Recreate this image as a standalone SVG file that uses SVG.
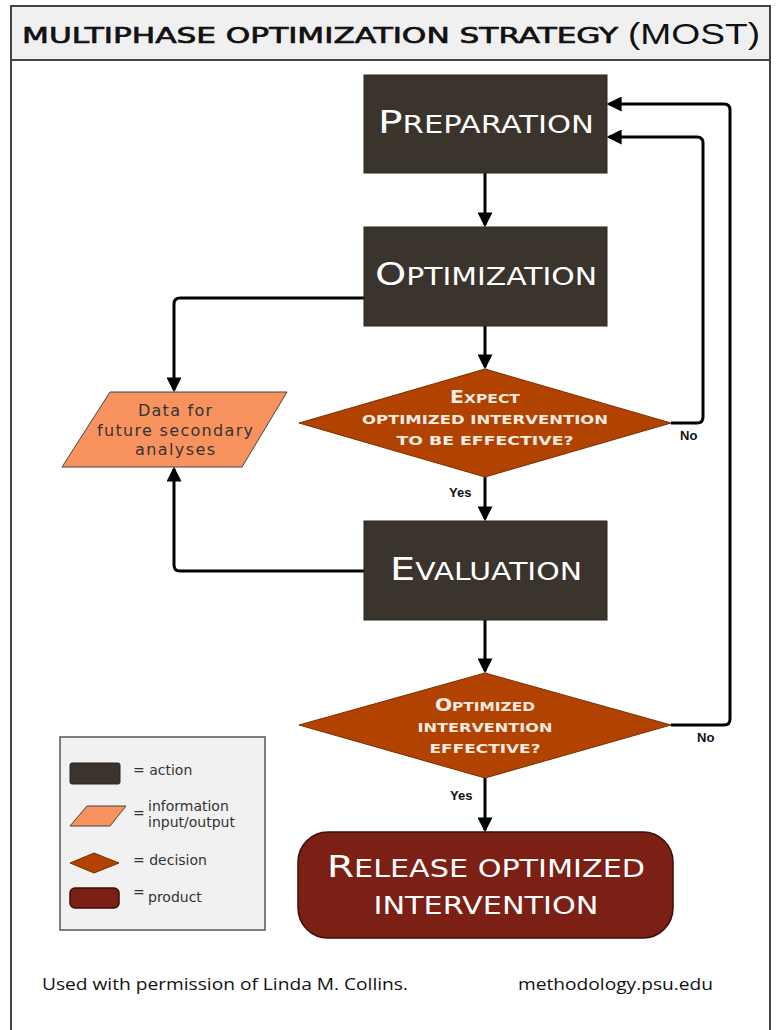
<svg xmlns="http://www.w3.org/2000/svg" width="777" height="1030" viewBox="0 0 777 1030">
  <defs>
    <marker id="arrow" markerWidth="5" markerHeight="5" refX="4.2" refY="2.5" orient="auto" markerUnits="strokeWidth">
      <path d="M0,0 L5,2.5 L0,5 Z" fill="#000"/>
    </marker>
    <style>
      .frame { fill: #ffffff; stroke: #444; stroke-width: 2; }
      .band { fill: #f0f0f0; stroke: #444; stroke-width: 2; }
      .action { fill: #3a342d; stroke: #2a2520; stroke-width: 1; }
      .decision { fill: #b24200; stroke: #7a2d00; stroke-width: 1; }
      .info { fill: #f8935f; stroke: #444; stroke-width: 1; }
      .product { fill: #7c1f15; stroke: #3a0e09; stroke-width: 1.5; }
      .legend { fill: #f1f1f1; stroke: #555; stroke-width: 1.5; }
      .conn { fill: none; stroke: #000; stroke-width: 3; stroke-linejoin: round; marker-end: url(#arrow); }
      .title { font-family: "DejaVu Sans", sans-serif; font-size: 22px; fill: #111; stroke: #111; stroke-width: 0.7; }
      .title2 { font-family: "Liberation Sans", sans-serif; font-size: 30px; fill: #111; }
      .big { font-family: "DejaVu Sans", sans-serif; fill: #ffffff; text-anchor: middle; }
      .dec { font-family: "DejaVu Sans", sans-serif; fill: #f7ece2; text-anchor: middle; font-weight: bold; }
      .data { font-family: "DejaVu Sans", sans-serif; font-size: 16px; fill: #333; text-anchor: middle; }
      .lbl { font-family: "Liberation Sans", sans-serif; font-size: 13px; font-weight: bold; fill: #111; }
      .leg { font-family: "DejaVu Sans", sans-serif; font-size: 14px; fill: #333; }
      .foot { font-family: "Open Sans", "Liberation Sans", sans-serif; font-size: 16px; fill: #111; }
    </style>
  </defs>

  <!-- page frame and title band -->
  <rect class="frame" x="11" y="6" width="759" height="1030"/>
  <rect class="band" x="11" y="6" width="759" height="54"/>
  <text class="title" x="22" y="43" textLength="596" lengthAdjust="spacingAndGlyphs">MULTIPHASE OPTIMIZATION STRATEGY</text>
  <text class="title2" x="628" y="44" textLength="132" lengthAdjust="spacingAndGlyphs">(MOST)</text>

  <!-- connectors -->
  <g id="connectors">
    <path class="conn" d="M485,173 V225"/>
    <path class="conn" d="M485,326 V367"/>
    <path class="conn" d="M485,477 V519"/>
    <path class="conn" d="M485,620 V671"/>
    <path class="conn" d="M485,778 V830"/>
    <path class="conn" d="M364,298 H180 Q174,298 174,304 V390"/>
    <path class="conn" d="M364,571 H180 Q174,571 174,565 V469"/>
    <path class="conn" d="M671,423 H697 Q703,423 703,417 V143 Q703,137 697,137 H609"/>
    <path class="conn" d="M671,725 H724 Q730,725 730,719 V110 Q730,104 724,104 H609"/>
    <text class="lbl" x="449" y="497">Yes</text>
    <text class="lbl" x="680" y="440">No</text>
    <text class="lbl" x="450" y="800">Yes</text>
    <text class="lbl" x="697" y="742">No</text>
  </g>

  <!-- action: preparation -->
  <g id="preparation">
    <rect class="action" x="364" y="75" width="243" height="98"/>
    <text class="big" x="486" y="133" textLength="216" lengthAdjust="spacingAndGlyphs"><tspan font-size="32">P</tspan><tspan font-size="24">REPARATION</tspan></text>
  </g>

  <!-- action: optimization -->
  <g id="optimization">
    <rect class="action" x="364" y="227" width="243" height="99"/>
    <text class="big" x="486" y="285" textLength="222" lengthAdjust="spacingAndGlyphs"><tspan font-size="32">O</tspan><tspan font-size="24">PTIMIZATION</tspan></text>
  </g>

  <!-- decision: expect effective -->
  <g id="decision-expect">
    <polygon class="decision" points="485,369 671,423 485,477 299,423"/>
    <text class="dec" x="485" y="403" font-size="13" textLength="70" lengthAdjust="spacingAndGlyphs"><tspan font-size="17">E</tspan>XPECT</text>
    <text class="dec" x="485" y="424" font-size="13" textLength="246" lengthAdjust="spacingAndGlyphs">OPTIMIZED INTERVENTION</text>
    <text class="dec" x="485" y="445" font-size="13" textLength="177" lengthAdjust="spacingAndGlyphs">TO BE EFFECTIVE?</text>
  </g>

  <!-- information: data -->
  <g id="data">
    <polygon class="info" points="110,392 287,392 242,467 62,467"/>
    <text class="data" x="175" y="416" textLength="74">Data for</text>
    <text class="data" x="175" y="436" textLength="156">future secondary</text>
    <text class="data" x="175" y="455" textLength="80">analyses</text>
  </g>

  <!-- action: evaluation -->
  <g id="evaluation">
    <rect class="action" x="364" y="521" width="243" height="99"/>
    <text class="big" x="486" y="580" textLength="192" lengthAdjust="spacingAndGlyphs"><tspan font-size="32">E</tspan><tspan font-size="24">VALUATION</tspan></text>
  </g>

  <!-- decision: effective -->
  <g id="decision-effective">
    <polygon class="decision" points="485,673 671,725 485,778 299,725"/>
    <text class="dec" x="485" y="711" font-size="13" textLength="100" lengthAdjust="spacingAndGlyphs"><tspan font-size="17">O</tspan>PTIMIZED</text>
    <text class="dec" x="485" y="732" font-size="13" textLength="135" lengthAdjust="spacingAndGlyphs">INTERVENTION</text>
    <text class="dec" x="485" y="753" font-size="13" textLength="111" lengthAdjust="spacingAndGlyphs">EFFECTIVE?</text>
  </g>

  <!-- product: release -->
  <g id="release">
    <rect class="product" x="298" y="832" width="375" height="106" rx="30"/>
    <text class="big" x="486" y="877" textLength="318" lengthAdjust="spacingAndGlyphs"><tspan font-size="31">R</tspan><tspan font-size="24">ELEASE OPTIMIZED</tspan></text>
    <text class="big" x="486" y="914" font-size="24" textLength="225" lengthAdjust="spacingAndGlyphs">INTERVENTION</text>
  </g>

  <!-- legend -->
  <g id="legend">
    <rect class="legend" x="60" y="737" width="205" height="193"/>
    <rect class="action" x="70" y="763" width="50" height="21" rx="2"/>
    <text class="leg" x="133" y="775">= action</text>
    <polygon class="info" points="87,806 126,806 110,826 70,826"/>
    <text class="leg" x="133" y="818">=</text>
    <text class="leg" x="148" y="811">information</text>
    <text class="leg" x="148" y="827">input/output</text>
    <polygon class="decision" points="94,853 119,863 94,873 70,863"/>
    <text class="leg" x="133" y="865">= decision</text>
    <rect class="product" x="70" y="888" width="49" height="20" rx="5"/>
    <text class="leg" x="133" y="897">=</text>
    <text class="leg" x="148" y="902">product</text>
  </g>

  <!-- footer -->
  <text class="foot" x="42" y="990" textLength="366" lengthAdjust="spacingAndGlyphs">Used with permission of Linda M. Collins.</text>
  <text class="foot" x="518" y="990" textLength="195" lengthAdjust="spacingAndGlyphs">methodology.psu.edu</text>
</svg>
